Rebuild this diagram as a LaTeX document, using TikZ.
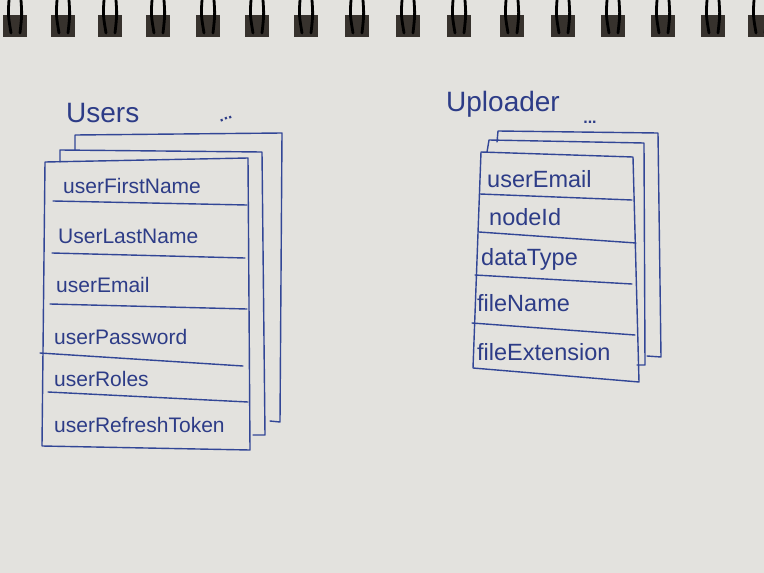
\documentclass[tikz,border=0pt]{standalone}
\usepackage{fontspec}
\setmainfont{Liberation Sans}
\definecolor{paper}{RGB}{227,226,222}
\definecolor{ink}{RGB}{50,70,150}
\definecolor{textink}{RGB}{45,60,135}
\definecolor{hole}{RGB}{55,50,45}
\tikzset{
  card/.style={ink, line width=1.4pt, line cap=round, line join=round},
  field/.style={anchor=west, inner sep=0pt, text=textink, font=\fontsize{21}{24}\selectfont},
  bigfield/.style={field, font=\fontsize{23.5}{26}\selectfont},
  title/.style={anchor=west, inner sep=0pt, text=textink, font=\fontsize{28}{32}\selectfont},
  more/.style={inner sep=0pt, text=textink, font=\fontsize{16}{18}\selectfont\bfseries}
}
\begin{document}
\begin{tikzpicture}[x=1pt,y=-1pt]
\useasboundingbox (0,0) rectangle (764,573);
\fill[paper] (0,0) rectangle (764,573);
% spiral binding
\foreach \c in {15,63,110,158,208,257,306,357,408,459,512,563,613,663,713,760}{
  \fill[hole] (\c-12,15) rectangle (\c+12,37);
  \draw[black, line width=2.8pt, line cap=round] (\c-6,0) .. controls (\c-7,15) .. (\c-4,33);
  \draw[black, line width=2.8pt, line cap=round] (\c+6,0) .. controls (\c+7,15) .. (\c+5,33);
}
% ---------------- Users ----------------
\node[title] (usersT) at (66,113) {Users};
\node[more, rotate=20] (usersMore) at (226,119) {...};
% back card
\draw[card] (75,150) -- (75,135) -- (282,133) -- (280,422) -- (270,421);
% middle card
\draw[card] (60,162) -- (60,150) -- (262,152) -- (265,435) -- (253,435);
% front card
\draw[card] (45,162) -- (248,158) -- (250,450) -- (42,446) -- cycle;
\draw[card] (53,201) -- (247,205);
\draw[card] (52,253) -- (245,258);
\draw[card] (50,304) -- (247,309);
\draw[card] (40,353) -- (243,366);
\draw[card] (48,392) -- (248,402);
\node[field] (u1) at (63,186) {userFirstName};
\node[field] (u2) at (58,236) {UserLastName};
\node[field] (u3) at (56,285) {userEmail};
\node[field] (u4) at (54,337) {userPassword};
\node[field] (u5) at (54,379) {userRoles};
\node[field] (u6) at (54,425) {userRefreshToken};
% ---------------- Uploader ----------------
\node[title] (uplT) at (446,104) {Uploader};
\node[more] (uplMore) at (590,122) {...};
% back card
\draw[card] (497,142) -- (498,131) -- (658,133) -- (661,357) -- (647,356);
% middle card
\draw[card] (487,152) -- (489,140) -- (644,143) -- (645,365) -- (637,365);
% front card
\draw[card] (481,152) -- (633,157) -- (639,382) -- (473,368) -- cycle;
\draw[card] (480,194) -- (632,200);
\draw[card] (479,232) -- (636,243);
\draw[card] (475,275) -- (632,284);
\draw[card] (472,323) -- (635,335);
\node[bigfield] (p1) at (487,179) {userEmail};
\node[bigfield] (p2) at (489,217) {nodeId};
\node[bigfield] (p3) at (481,259) {dataType};
\node[bigfield] (p4) at (477,303) {fileName};
\node[bigfield] (p5) at (477,352) {fileExtension};
\end{tikzpicture}
\end{document}
